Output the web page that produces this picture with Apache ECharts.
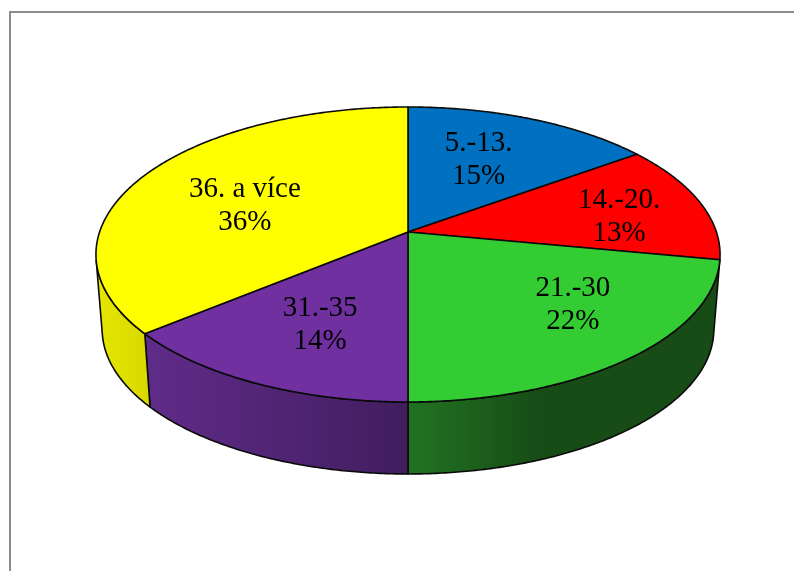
<!DOCTYPE html>
<html>
<head>
<meta charset="utf-8">
<style>html,body{margin:0;padding:0;background:#fff}#c{width:794px;height:571px}</style>
<script src="https://cdn.jsdelivr.net/npm/echarts@6/dist/echarts.min.js"></script>
</head>
<body>
<div id="c"></div>
<script>
// Age groups and their shares in percent, clockwise from twelve o'clock
const categories = ['5.-13.', '14.-20.', '21.-30', '31.-35', '36. a více'];
const shares = [15, 13, 22, 14, 36];

const topColors = ['#0070C0', '#FF0000', '#33CC33', '#7030A0', '#FFFF00'];
const wallStops = [
  [[0, '#005a9a'], [1, '#005a9a']],
  [[0, '#cc0000'], [1, '#cc0000']],
  [[0, '#227322'], [0.42, '#174c17'], [1, '#174c17']],
  [[0, '#602c8a'], [1, '#411d5e']],
  [[0, '#e6e600'], [1, '#d8d800']]
];
// Where each label sits relative to its slice's mid-angle anchor
const labelNudge = [[-7, -1], [34, 3], [38, 1], [-2, 8], [-2, 9]];

// Perspective view of the disc: centre of the top face, half-widths and tilt
const view = { cx: 408, cy: 232, bx: 308.4, by: 144.07, tilt: 0.1525, vanishY: 4000, shrink: 0.98 };

function project(r, deg) {
  const t = deg * Math.PI / 180;
  const s = -r * Math.cos(t), c = r * Math.sin(t);
  const d = 1 - view.tilt * s;
  return [view.cx + view.bx * c / d, view.cy + view.by * s / d];
}
function lower(p) {
  return [view.cx + (p[0] - view.cx) * view.shrink, view.vanishY + (p[1] - view.vanishY) * view.shrink];
}

const total = shares.reduce((a, b) => a + b, 0);
function angleRange(i) {
  const before = shares.slice(0, i).reduce((a, b) => a + b, 0);
  return [before / total * 360, (before + shares[i]) / total * 360];
}
function arc(from, to) {
  const n = Math.max(2, Math.ceil((to - from) / 0.5));
  const pts = [];
  for (let k = 0; k <= n; k++) pts.push(from + (to - from) * k / n);
  return pts;
}
// The part of a slice's rim that faces the viewer
function visibleRim(from, to) {
  const degs = arc(from, to), keep = [];
  for (let k = 0; k < degs.length - 1; k++) {
    const a = project(1, degs[k]), b = project(1, degs[k + 1]), c = lower(b);
    const area = (b[0] - a[0]) * (c[1] - a[1]) - (b[1] - a[1]) * (c[0] - a[0]);
    if (area < 0) { if (!keep.length) keep.push(degs[k]); keep.push(degs[k + 1]); }
  }
  return keep;
}

const outline = { stroke: '#0a0a0a', lineWidth: 1.6, lineJoin: 'round' };

function renderWall(params, api) {
  const i = params.dataIndex;
  api.value(0);
  const [from, to] = angleRange(i);
  const rim = visibleRim(from, to);
  if (rim.length < 2) return { type: 'group', children: [] };
  const upper = rim.map(d => project(1, d));
  const pts = upper.concat(upper.map(lower).reverse());
  return {
    type: 'polygon',
    shape: { points: pts },
    style: Object.assign({
      fill: {
        type: 'linear', x: 0, y: 0, x2: 1, y2: 0,
        colorStops: wallStops[i].map(s => ({ offset: s[0], color: s[1] }))
      }
    }, outline)
  };
}
function renderTop(params, api) {
  const i = params.dataIndex;
  api.value(0);
  const [from, to] = angleRange(i);
  const pts = [[view.cx, view.cy]].concat(arc(from, to).map(d => project(1, d)));
  return {
    type: 'polygon',
    shape: { points: pts },
    style: Object.assign({ fill: topColors[i] }, outline)
  };
}
function renderLabel(params, api) {
  const i = params.dataIndex;
  const [from, to] = angleRange(i);
  const p = project(0.6, (from + to) / 2);
  return {
    type: 'text',
    style: {
      x: p[0] + labelNudge[i][0],
      y: p[1] + labelNudge[i][1],
      text: categories[i] + '\n' + api.value(0) + '%',
      fill: '#000',
      font: '29px "Liberation Serif"',
      lineHeight: 33,
      align: 'center',
      verticalAlign: 'middle'
    }
  };
}

const rows = shares.map(v => [v]);
const chart = echarts.init(document.getElementById('c'), null, { renderer: 'canvas' });
chart.setOption({
  animation: false,
  backgroundColor: '#fff',
  tooltip: { show: false },
  graphic: [
    { type: 'line', silent: true, shape: { x1: 10, y1: 12, x2: 794, y2: 12 }, style: { stroke: '#8c8c8c', lineWidth: 2 } },
    { type: 'line', silent: true, shape: { x1: 10, y1: 11, x2: 10, y2: 571 }, style: { stroke: '#8c8c8c', lineWidth: 2 } }
  ],
  series: [
    { type: 'custom', coordinateSystem: 'none', silent: true, z: 1, data: rows, renderItem: renderWall },
    { type: 'custom', coordinateSystem: 'none', silent: true, z: 2, data: rows, renderItem: renderTop },
    { type: 'custom', coordinateSystem: 'none', silent: true, z: 3, data: rows, renderItem: renderLabel }
  ]
});
</script>
</body>
</html>
